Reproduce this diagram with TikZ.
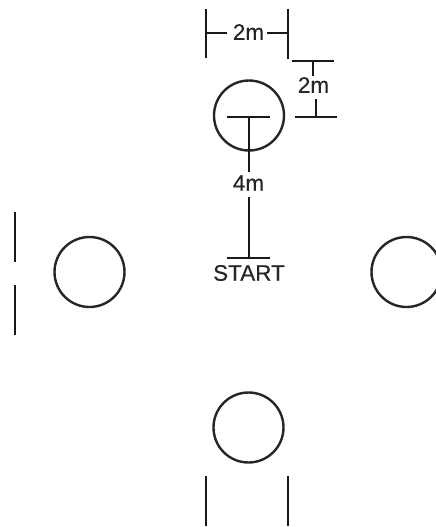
\documentclass[tikz,border=0pt]{standalone}
\usepackage{fontspec}
\setmainfont[FakeBold=0.25]{Liberation Sans}
\tikzset{
  ring/.style={draw=black!85,line width=2.4pt,circle,minimum size=70pt,inner sep=0pt},
  lbl/.style={inner ysep=0pt,inner xsep=0pt,font=\fontsize{22.5}{26}\selectfont,text=black!85},
  rule/.style={draw=black!90,line width=2.3pt}
}
\begin{document}
\begin{tikzpicture}[x=1pt,y=-1pt]
\useasboundingbox (0,0) rectangle (436,527);
\clip (0,0) rectangle (436,527);
% circles
\node[ring] (top) at (249,115.5) {};
\node[ring] (left) at (89.5,272) {};
\node[ring] (right) at (406.5,272) {};
\node[ring] (bottom) at (248.5,427.5) {};
% labels
\node[lbl] (w) at (248.5,32) {2m};
\node[lbl] (h) at (313.5,85) {2m};
\node[lbl] (d) at (248.5,183) {4m};
\node[lbl] (s) at (249,273) {START};
% horizontal dimension
\coordinate (wl) at (206,33); \coordinate (wr) at (288,33);
\draw[rule] (206,9) -- (206,58);
\draw[rule] (288,9) -- (288,59);
\draw[rule] (wl) -- (227,33);
\draw[rule] (267,33) -- (wr);
% vertical dimension
\coordinate (ht) at (313,61); \coordinate (hb) at (316,117);
\draw[rule] (292,61) -- (334,61);
\draw[rule] (295,117) -- (337,117);
\draw[rule] (ht) -- (313,76);
\draw[rule] (316,99) -- (hb);
% 4 m dimension
\coordinate (dt) at (249,117); \coordinate (db) at (249,258);
\draw[rule] (227,117) -- (270,117);
\draw[rule] (227,258) -- (270,258);
\draw[rule] (dt) -- (249,172);
\draw[rule] (249,197) -- (db);
% gate posts
\draw[rule] (15,212) -- (15,262);
\draw[rule] (15,285) -- (15,335);
\draw[rule] (206,476) -- (206,526);
\draw[rule] (288,476) -- (288,526);
\end{tikzpicture}
\end{document}
